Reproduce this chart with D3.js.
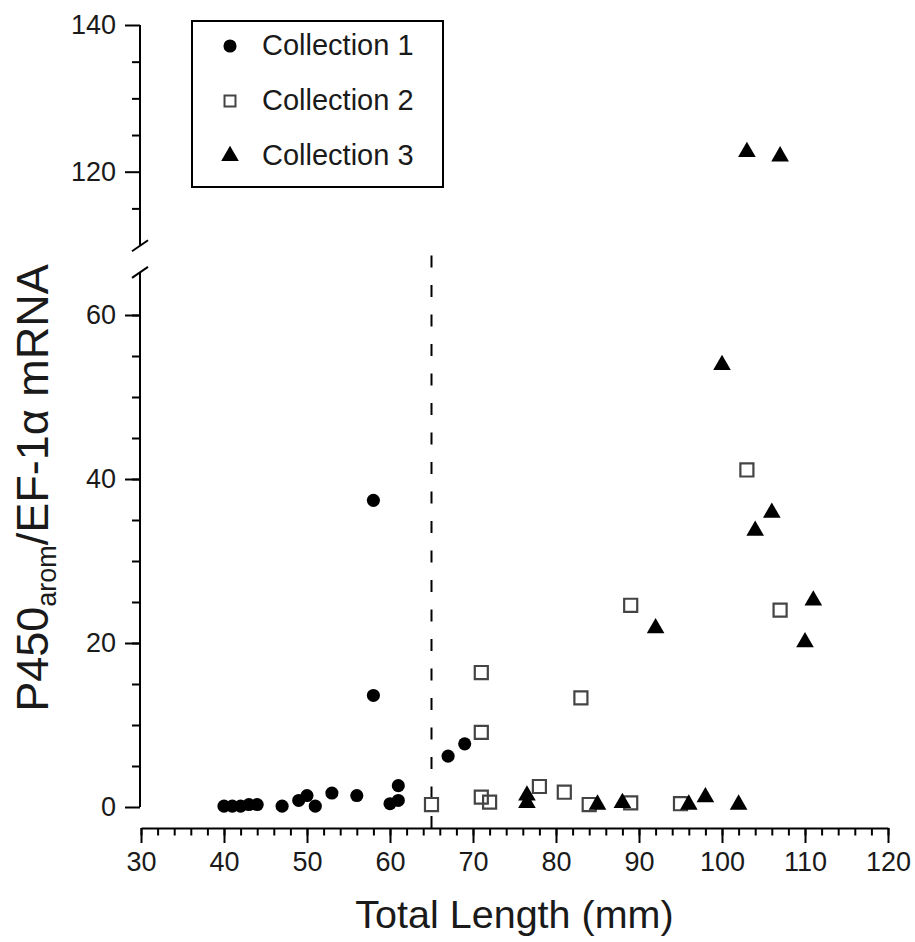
<!DOCTYPE html>
<html lang="en">
<head>
  <meta charset="UTF-8">
  <script src="https://d3js.org/d3.v7.min.js"></script>
  <title>P450arom vs total length</title>
  <style>
    body { margin: 0; background: #fff; }
    text { font-family: "Liberation Sans", Arial, Helvetica, sans-serif; fill: #1a1a1a; }
  </style>
</head>
<body>
  <svg id="chart" width="915" height="942"></svg>
  <script>
    // collection 1 (filled circles)
    const c1Length = [40, 41, 42, 43, 44, 47, 49, 50, 51, 53, 56, 58, 58, 60, 61, 61, 67, 69];
    const c1Value  = [0.1, 0.1, 0.1, 0.3, 0.3, 0.1, 0.8, 1.4, 0.1, 1.7, 1.4, 37.4, 13.6, 0.4, 0.8, 2.6, 6.2, 7.7];
    // collection 2 (open squares)
    const c2Length = [65, 71, 71, 71, 72, 78, 81, 83, 84, 89, 89, 95, 103, 107];
    const c2Value  = [0.3, 16.4, 9.1, 1.2, 0.6, 2.5, 1.8, 13.3, 0.3, 24.6, 0.5, 0.4, 41.1, 24.0];
    // collection 3 (filled triangles)
    const c3Length = [76.5, 76.5, 85, 88, 92, 96, 98, 100, 102, 103, 104, 106, 107, 110, 111];
    const c3Value  = [1.4, 0.5, 0.3, 0.5, 21.8, 0.3, 1.2, 53.9, 0.3, 122.7, 33.7, 35.9, 122.1, 20.1, 25.2];

    const seriesNames = ["Collection 1", "Collection 2", "Collection 3"];
    const xTicks = [30, 40, 50, 60, 70, 80, 90, 100, 110, 120];
    const yTicksLow = [0, 20, 40, 60];
    const yTicksHigh = [120, 140];
    const cutoff = 65; // dashed line

    const svg = d3.select("#chart");

    const x = d3.scaleLinear().domain([30, 120]).range([141, 888]);
    // broken y axis: two pieces
    const yLow = d3.scaleLinear().domain([0, 60]).range([807, 315]);
    const yHigh = d3.scaleLinear().domain([120, 140]).range([171.7, 25]);
    const yOf = v => v >= 100 ? yHigh(v) : yLow(v);

    // x axis
    const xAxisG = svg.append("g").attr("transform", "translate(0,828)");
    xAxisG.append("g")
      .call(d3.axisBottom(x).tickValues(d3.range(30, 121, 2)).tickSize(7.5).tickFormat(""))
      .call(g => g.select(".domain").remove());
    xAxisG.append("g")
      .call(d3.axisBottom(x).tickValues(xTicks).tickSize(15).tickSizeOuter(0).tickPadding(9));

    // y axis, lower piece
    const yLowG = svg.append("g").attr("transform", "translate(140,0)");
    yLowG.append("g")
      .call(d3.axisLeft(yLow).tickValues(d3.range(5, 61, 5)).tickSize(8).tickFormat(""))
      .call(g => g.select(".domain").remove());
    yLowG.append("g")
      .call(d3.axisLeft(yLow).tickValues(yTicksLow).tickSize(15).tickPadding(9))
      .call(g => g.select(".domain").remove());
    yLowG.append("line").attr("y1", yLow(0)).attr("y2", yLow(65.2)).attr("stroke", "#000").attr("stroke-width", 2);

    // y axis, upper piece
    const yHighG = svg.append("g").attr("transform", "translate(140,0)");
    yHighG.append("g")
      .call(d3.axisLeft(yHigh).tickValues([115, 125, 130, 135]).tickSize(8).tickFormat(""))
      .call(g => g.select(".domain").remove());
    yHighG.append("g")
      .call(d3.axisLeft(yHigh).tickValues(yTicksHigh).tickSize(15).tickPadding(9))
      .call(g => g.select(".domain").remove());
    yHighG.append("line").attr("y1", yHigh(140)).attr("y2", yHigh(109.9)).attr("stroke", "#000").attr("stroke-width", 2);

    // break marks
    [yHigh(109.9), yLow(65.2)].forEach(yy => {
      svg.append("line")
        .attr("x1", 132).attr("y1", yy + 5.5).attr("x2", 148).attr("y2", yy - 5.5)
        .attr("stroke", "#000").attr("stroke-width", 2);
    });

    svg.selectAll(".tick line").attr("stroke", "#000").attr("stroke-width", 2);
    svg.selectAll(".domain").attr("stroke", "#000").attr("stroke-width", 2);
    svg.selectAll(".tick text").attr("font-size", 27).attr("font-family", "Liberation Sans, Arial, sans-serif").attr("fill", "#1a1a1a");

    // dashed cutoff line
    svg.append("line")
      .attr("x1", x(cutoff)).attr("x2", x(cutoff))
      .attr("y1", 828).attr("y2", 243)
      .attr("stroke", "#000").attr("stroke-width", 2)
      .attr("stroke-dasharray", "12,17.5");

    const circle = d3.symbol().type(d3.symbolCircle).size(135);
    const square = d3.symbol().type(d3.symbolSquare).size(170);
    const triangle = d3.symbol().type(d3.symbolTriangle).size(135);

    const pts = (xs, ys) => xs.map((d, i) => ({ len: d, val: ys[i] }));

    svg.append("g").selectAll("path")
      .data(pts(c1Length, c1Value)).enter().append("path")
      .attr("d", circle)
      .attr("transform", d => `translate(${x(d.len)},${yOf(d.val)})`)
      .attr("fill", "#000");

    svg.append("g").selectAll("path")
      .data(pts(c2Length, c2Value)).enter().append("path")
      .attr("d", square)
      .attr("transform", d => `translate(${x(d.len)},${yOf(d.val)})`)
      .attr("fill", "none").attr("stroke", "#444").attr("stroke-width", 2.2);

    svg.append("g").selectAll("path")
      .data(pts(c3Length, c3Value)).enter().append("path")
      .attr("d", triangle)
      .attr("transform", d => `translate(${x(d.len)},${yOf(d.val)})`)
      .attr("fill", "#000");

    // legend
    const legend = svg.append("g");
    legend.append("rect")
      .attr("x", 192).attr("y", 21).attr("width", 251).attr("height", 166)
      .attr("fill", "#fff").attr("stroke", "#000").attr("stroke-width", 2);
    const legendMarks = [
      { sym: circle, fill: "#000", stroke: "none" },
      { sym: d3.symbol().type(d3.symbolSquare).size(120), fill: "none", stroke: "#444" },
      { sym: triangle, fill: "#000", stroke: "none" }
    ];
    seriesNames.forEach((name, i) => {
      const base = 55 + i * 55;
      legend.append("path")
        .attr("d", legendMarks[i].sym)
        .attr("transform", `translate(230,${base - 9})`)
        .attr("fill", legendMarks[i].fill)
        .attr("stroke", legendMarks[i].stroke).attr("stroke-width", 2);
      legend.append("text")
        .attr("x", 262).attr("y", base)
        .attr("font-size", 29)
        .text(name);
    });

    // axis titles
    svg.append("text")
      .attr("x", x(75)).attr("y", 928)
      .attr("text-anchor", "middle")
      .attr("font-size", 39.5)
      .text("Total Length (mm)");

    const yTitle = svg.append("text")
      .attr("transform", "translate(48,488) rotate(-90)")
      .attr("text-anchor", "middle")
      .attr("font-size", 45);
    yTitle.append("tspan").text("P450");
    yTitle.append("tspan").attr("font-size", 27).attr("dy", 8).text("arom");
    yTitle.append("tspan").attr("dy", -8).text("/EF-1\u03b1 mRNA");
  </script>
</body>
</html>
